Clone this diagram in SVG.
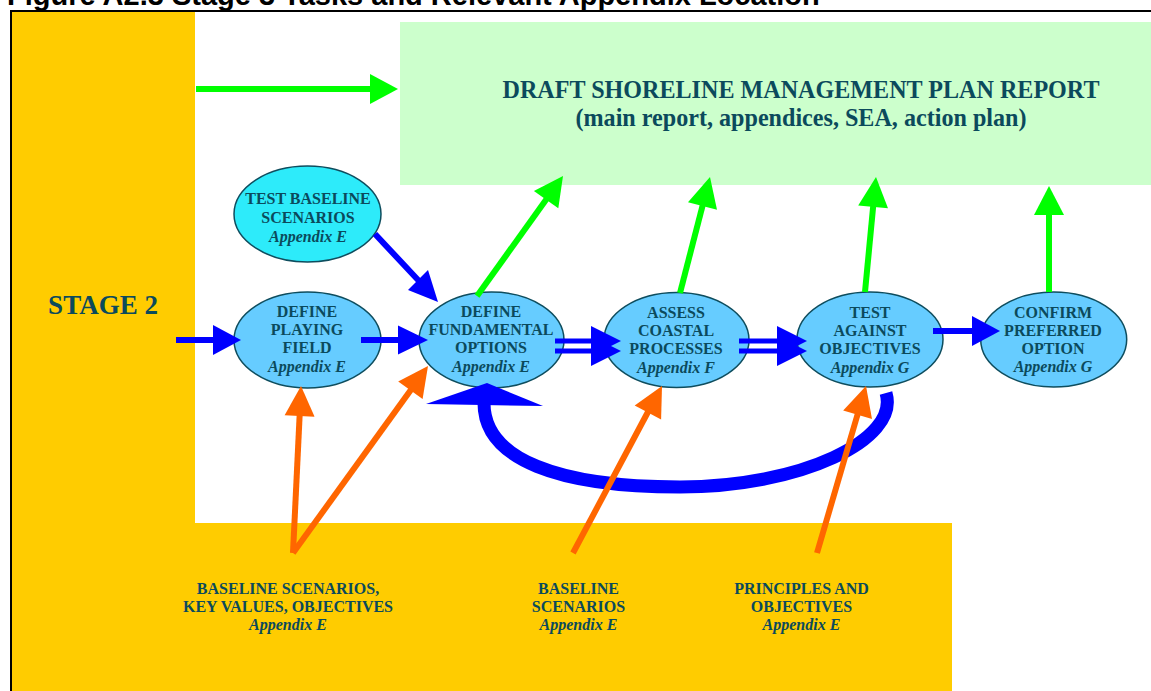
<svg xmlns="http://www.w3.org/2000/svg" width="1151" height="691" viewBox="0 0 1151 691">
<style>
.t{font-family:"Liberation Serif","Times New Roman",serif;font-weight:bold;fill:#0B4A5C;text-anchor:middle}
.n{font-size:16px}
.i{font-style:italic}
.el{fill:#66CCFF;stroke:#0E4D5E;stroke-width:1.5}
.g{stroke:#00FF00;stroke-width:6;fill:none}
.gh{fill:#00FF00}
.b{stroke:#0000FF;stroke-width:6;fill:none}
.b5{stroke-width:5}
.b13{stroke-width:13}
.bh{fill:#0000FF}
.o{stroke:#FF6600;stroke-width:6;fill:none}
.oh{fill:#FF6600}
</style>
<rect width="1151" height="691" fill="#FFFFFF"/>
<text x="7" y="5" font-family="Liberation Sans, Arial, sans-serif" font-weight="bold" font-size="29" fill="#000000">Figure A2.3 Stage 3 Tasks and Relevant Appendix Location</text>
<g id="background">
<path d="M12 12 H195 V523 H952 V691 H12 Z" fill="#FFCC00"/>
<line x1="10" y1="11" x2="1151" y2="11" stroke="#000000" stroke-width="2"/>
<line x1="11" y1="10" x2="11" y2="691" stroke="#000000" stroke-width="2"/>
</g>
<g id="stage2">
<text class="t" x="103" y="314" font-size="27">STAGE 2</text>
</g>
<g id="report">
<rect x="400" y="22" width="751" height="163" fill="#CCFFCC"/>
<text class="t" x="801" y="98" font-size="25" textLength="597" lengthAdjust="spacingAndGlyphs">DRAFT SHORELINE MANAGEMENT PLAN REPORT</text>
<text class="t" x="801" y="126" font-size="25" textLength="451" lengthAdjust="spacingAndGlyphs">(main report, appendices, SEA, action plan)</text>
</g>
<g id="test-baseline">
<ellipse cx="307.5" cy="214" rx="73.5" ry="48" fill="#2DEBFA" stroke="#0E4D5E" stroke-width="1.5"/>
<text class="t n" x="308" y="204">TEST BASELINE</text>
<text class="t n" x="308" y="222.5">SCENARIOS</text>
<text class="t n i" x="308" y="241.5">Appendix E</text>
</g>
<g id="define-playing-field">
<ellipse class="el" cx="307.5" cy="340" rx="73.5" ry="48"/>
<text class="t n" x="307" y="317">DEFINE</text>
<text class="t n" x="307" y="335">PLAYING</text>
<text class="t n" x="307" y="353">FIELD</text>
<text class="t n i" x="307" y="371.5">Appendix E</text>
</g>
<g id="define-fundamental-options">
<ellipse class="el" cx="491.5" cy="340" rx="72.5" ry="48"/>
<text class="t n" x="491" y="317">DEFINE</text>
<text class="t n" x="491" y="335">FUNDAMENTAL</text>
<text class="t n" x="491" y="353">OPTIONS</text>
<text class="t n i" x="491" y="371.5">Appendix E</text>
</g>
<g id="assess-coastal-processes">
<ellipse class="el" cx="676.5" cy="340" rx="72.5" ry="47.5"/>
<text class="t n" x="676" y="317.5">ASSESS</text>
<text class="t n" x="676" y="336">COASTAL</text>
<text class="t n" x="676" y="354">PROCESSES</text>
<text class="t n i" x="676" y="372.5">Appendix F</text>
</g>
<g id="test-against-objectives">
<ellipse class="el" cx="870" cy="339.5" rx="73" ry="47.5"/>
<text class="t n" x="870" y="317.5">TEST</text>
<text class="t n" x="870" y="336">AGAINST</text>
<text class="t n" x="870" y="354">OBJECTIVES</text>
<text class="t n i" x="870" y="372.5">Appendix G</text>
</g>
<g id="confirm-preferred-option">
<ellipse class="el" cx="1053.7" cy="339.5" rx="73" ry="47.5"/>
<text class="t n" x="1053" y="317.5">CONFIRM</text>
<text class="t n" x="1053" y="335.7">PREFERRED</text>
<text class="t n" x="1053" y="354.3">OPTION</text>
<text class="t n i" x="1053" y="372.3">Appendix G</text>
</g>
<g id="input-baseline-key-values">
<text class="t n" x="288" y="593.5">BASELINE SCENARIOS,</text>
<text class="t n" x="288" y="611.5">KEY VALUES, OBJECTIVES</text>
<text class="t n i" x="288" y="630">Appendix E</text>
</g>
<g id="input-baseline-scenarios">
<text class="t n" x="578.5" y="593.5">BASELINE</text>
<text class="t n" x="578.5" y="611.5">SCENARIOS</text>
<text class="t n i" x="578.5" y="630">Appendix E</text>
</g>
<g id="input-principles">
<text class="t n" x="801.5" y="593.5">PRINCIPLES AND</text>
<text class="t n" x="801.5" y="611.5">OBJECTIVES</text>
<text class="t n i" x="801.5" y="630">Appendix E</text>
</g>
<g id="connectors">
<line class="g" x1="196" y1="89" x2="372" y2="89"/>
<polygon class="gh" points="398,89 370,74 370,104"/>
<line class="g" x1="477" y1="296" x2="548" y2="197"/>
<polygon class="gh" points="563,176 558.3,208.3 533.9,190.9"/>
<line class="g" x1="680" y1="293" x2="703" y2="204"/>
<polygon class="gh" points="710,177 717,209.8 688,202.2"/>
<line class="g" x1="865" y1="292" x2="873.3" y2="205"/>
<polygon class="gh" points="876,177 888,208.3 858.2,205.5"/>
<line class="g" x1="1049" y1="292" x2="1049" y2="213"/>
<polygon class="gh" points="1049,186 1034,215 1064,215"/>
<line class="b" x1="176" y1="340" x2="215" y2="340"/>
<polygon class="bh" points="241,340 213,325 213,355"/>
<line class="b" x1="361" y1="340" x2="400" y2="340"/>
<polygon class="bh" points="428,340 398,325.5 398,354.5"/>
<line class="b" x1="375" y1="234" x2="419" y2="281"/>
<polygon class="bh" points="438,302 408,290 428,270"/>
<line class="b b5" x1="555" y1="341" x2="595" y2="341"/>
<line class="b b5" x1="555" y1="351" x2="595" y2="351"/>
<polygon class="bh" points="621,341 591,326 591,356"/>
<polygon class="bh" points="621,351 591,336 591,366"/>
<line class="b b5" x1="739" y1="341" x2="780" y2="341"/>
<line class="b b5" x1="739" y1="351" x2="780" y2="351"/>
<polygon class="bh" points="807,341 777,326 777,356"/>
<polygon class="bh" points="807,351 777,336 777,366"/>
<line class="b" x1="933" y1="331" x2="975" y2="331"/>
<polygon class="bh" points="1000,331 972,316 972,346"/>
<path class="b b13" d="M886 393 C900 440 800 487 680 487 C560 487 484 460 484 403"/>
<polygon class="bh" points="426,404 543,406 487,383"/>
<line class="o" x1="293" y1="553" x2="299.7" y2="414"/>
<polygon class="oh" points="301,386 314.6,416.7 284.6,415.3"/>
<line class="o" x1="293" y1="553" x2="411.5" y2="389"/>
<polygon class="oh" points="428,366 422.6,399.1 398.2,381.5"/>
<line class="o" x1="573" y1="553" x2="649" y2="410"/>
<polygon class="oh" points="662,386 661.1,419.6 634.7,405.4"/>
<line class="o" x1="817" y1="553" x2="858" y2="413"/>
<polygon class="oh" points="866,386 872,419 843.2,410.6"/>
</g>
</svg>
